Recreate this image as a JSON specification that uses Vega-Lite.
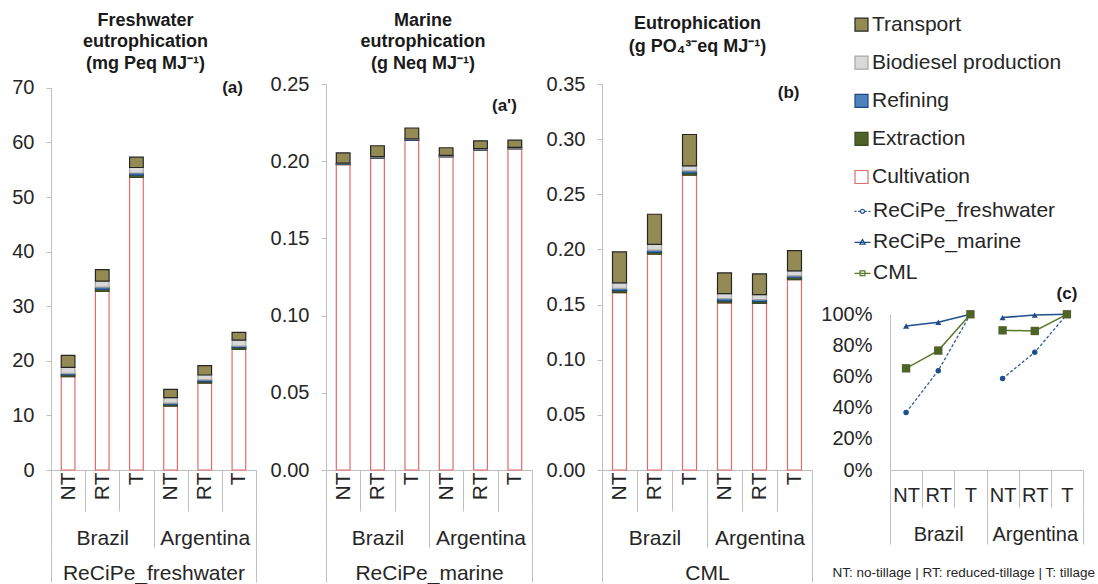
{
  "$schema": "https://vega.github.io/schema/vega-lite/v6.json",
  "padding": {"left": 11, "top": 11, "right": 0, "bottom": 0},
  "bounds": "flush",
  "spacing": 70,
  "config": {
    "font": "Liberation Sans",
    "view": {"stroke": null},
    "axis": {"labelColor": "#262626", "labelLimit": 400, "domainColor": "#bfbfbf", "tickColor": "#bfbfbf", "grid": false},
    "legend": {"labelLimit": 400, "padding": 0},
    "title": {"color": "#1a1a1a"}
  },
  "datasets": {
    "bars": [
      {"method": "ReCiPe_freshwater", "country": "Brazil", "tillage": "NT", "component": "Cultivation", "value": 17.1},
      {"method": "ReCiPe_freshwater", "country": "Brazil", "tillage": "NT", "component": "Extraction", "value": 0.3},
      {"method": "ReCiPe_freshwater", "country": "Brazil", "tillage": "NT", "component": "Refining", "value": 0.3},
      {"method": "ReCiPe_freshwater", "country": "Brazil", "tillage": "NT", "component": "Biodiesel production", "value": 1.1},
      {"method": "ReCiPe_freshwater", "country": "Brazil", "tillage": "NT", "component": "Transport", "value": 2.2},
      {"method": "ReCiPe_freshwater", "country": "Brazil", "tillage": "RT", "component": "Cultivation", "value": 32.7},
      {"method": "ReCiPe_freshwater", "country": "Brazil", "tillage": "RT", "component": "Extraction", "value": 0.4},
      {"method": "ReCiPe_freshwater", "country": "Brazil", "tillage": "RT", "component": "Refining", "value": 0.4},
      {"method": "ReCiPe_freshwater", "country": "Brazil", "tillage": "RT", "component": "Biodiesel production", "value": 1.1},
      {"method": "ReCiPe_freshwater", "country": "Brazil", "tillage": "RT", "component": "Transport", "value": 2.1},
      {"method": "ReCiPe_freshwater", "country": "Brazil", "tillage": "T", "component": "Cultivation", "value": 53.6},
      {"method": "ReCiPe_freshwater", "country": "Brazil", "tillage": "T", "component": "Extraction", "value": 0.4},
      {"method": "ReCiPe_freshwater", "country": "Brazil", "tillage": "T", "component": "Refining", "value": 0.4},
      {"method": "ReCiPe_freshwater", "country": "Brazil", "tillage": "T", "component": "Biodiesel production", "value": 1.0},
      {"method": "ReCiPe_freshwater", "country": "Brazil", "tillage": "T", "component": "Transport", "value": 1.9},
      {"method": "ReCiPe_freshwater", "country": "Argentina", "tillage": "NT", "component": "Cultivation", "value": 11.7},
      {"method": "ReCiPe_freshwater", "country": "Argentina", "tillage": "NT", "component": "Extraction", "value": 0.25},
      {"method": "ReCiPe_freshwater", "country": "Argentina", "tillage": "NT", "component": "Refining", "value": 0.3},
      {"method": "ReCiPe_freshwater", "country": "Argentina", "tillage": "NT", "component": "Biodiesel production", "value": 1.0},
      {"method": "ReCiPe_freshwater", "country": "Argentina", "tillage": "NT", "component": "Transport", "value": 1.5},
      {"method": "ReCiPe_freshwater", "country": "Argentina", "tillage": "RT", "component": "Cultivation", "value": 15.9},
      {"method": "ReCiPe_freshwater", "country": "Argentina", "tillage": "RT", "component": "Extraction", "value": 0.3},
      {"method": "ReCiPe_freshwater", "country": "Argentina", "tillage": "RT", "component": "Refining", "value": 0.3},
      {"method": "ReCiPe_freshwater", "country": "Argentina", "tillage": "RT", "component": "Biodiesel production", "value": 0.9},
      {"method": "ReCiPe_freshwater", "country": "Argentina", "tillage": "RT", "component": "Transport", "value": 1.7},
      {"method": "ReCiPe_freshwater", "country": "Argentina", "tillage": "T", "component": "Cultivation", "value": 22.1},
      {"method": "ReCiPe_freshwater", "country": "Argentina", "tillage": "T", "component": "Extraction", "value": 0.3},
      {"method": "ReCiPe_freshwater", "country": "Argentina", "tillage": "T", "component": "Refining", "value": 0.3},
      {"method": "ReCiPe_freshwater", "country": "Argentina", "tillage": "T", "component": "Biodiesel production", "value": 1.1},
      {"method": "ReCiPe_freshwater", "country": "Argentina", "tillage": "T", "component": "Transport", "value": 1.4},

      {"method": "ReCiPe_marine", "country": "Brazil", "tillage": "NT", "component": "Cultivation", "value": 0.1978},
      {"method": "ReCiPe_marine", "country": "Brazil", "tillage": "NT", "component": "Extraction", "value": 0.0002},
      {"method": "ReCiPe_marine", "country": "Brazil", "tillage": "NT", "component": "Refining", "value": 0.0004},
      {"method": "ReCiPe_marine", "country": "Brazil", "tillage": "NT", "component": "Biodiesel production", "value": 0.0004},
      {"method": "ReCiPe_marine", "country": "Brazil", "tillage": "NT", "component": "Transport", "value": 0.0066},
      {"method": "ReCiPe_marine", "country": "Brazil", "tillage": "RT", "component": "Cultivation", "value": 0.2020},
      {"method": "ReCiPe_marine", "country": "Brazil", "tillage": "RT", "component": "Extraction", "value": 0.0002},
      {"method": "ReCiPe_marine", "country": "Brazil", "tillage": "RT", "component": "Refining", "value": 0.0004},
      {"method": "ReCiPe_marine", "country": "Brazil", "tillage": "RT", "component": "Biodiesel production", "value": 0.0004},
      {"method": "ReCiPe_marine", "country": "Brazil", "tillage": "RT", "component": "Transport", "value": 0.0070},
      {"method": "ReCiPe_marine", "country": "Brazil", "tillage": "T", "component": "Cultivation", "value": 0.2135},
      {"method": "ReCiPe_marine", "country": "Brazil", "tillage": "T", "component": "Extraction", "value": 0.0002},
      {"method": "ReCiPe_marine", "country": "Brazil", "tillage": "T", "component": "Refining", "value": 0.0004},
      {"method": "ReCiPe_marine", "country": "Brazil", "tillage": "T", "component": "Biodiesel production", "value": 0.0004},
      {"method": "ReCiPe_marine", "country": "Brazil", "tillage": "T", "component": "Transport", "value": 0.0070},
      {"method": "ReCiPe_marine", "country": "Argentina", "tillage": "NT", "component": "Cultivation", "value": 0.2028},
      {"method": "ReCiPe_marine", "country": "Argentina", "tillage": "NT", "component": "Extraction", "value": 0.0002},
      {"method": "ReCiPe_marine", "country": "Argentina", "tillage": "NT", "component": "Refining", "value": 0.0004},
      {"method": "ReCiPe_marine", "country": "Argentina", "tillage": "NT", "component": "Biodiesel production", "value": 0.0004},
      {"method": "ReCiPe_marine", "country": "Argentina", "tillage": "NT", "component": "Transport", "value": 0.0049},
      {"method": "ReCiPe_marine", "country": "Argentina", "tillage": "RT", "component": "Cultivation", "value": 0.2072},
      {"method": "ReCiPe_marine", "country": "Argentina", "tillage": "RT", "component": "Extraction", "value": 0.0002},
      {"method": "ReCiPe_marine", "country": "Argentina", "tillage": "RT", "component": "Refining", "value": 0.0004},
      {"method": "ReCiPe_marine", "country": "Argentina", "tillage": "RT", "component": "Biodiesel production", "value": 0.0004},
      {"method": "ReCiPe_marine", "country": "Argentina", "tillage": "RT", "component": "Transport", "value": 0.0050},
      {"method": "ReCiPe_marine", "country": "Argentina", "tillage": "T", "component": "Cultivation", "value": 0.2080},
      {"method": "ReCiPe_marine", "country": "Argentina", "tillage": "T", "component": "Extraction", "value": 0.0002},
      {"method": "ReCiPe_marine", "country": "Argentina", "tillage": "T", "component": "Refining", "value": 0.0004},
      {"method": "ReCiPe_marine", "country": "Argentina", "tillage": "T", "component": "Biodiesel production", "value": 0.0004},
      {"method": "ReCiPe_marine", "country": "Argentina", "tillage": "T", "component": "Transport", "value": 0.0046},

      {"method": "CML", "country": "Brazil", "tillage": "NT", "component": "Cultivation", "value": 0.1609},
      {"method": "CML", "country": "Brazil", "tillage": "NT", "component": "Extraction", "value": 0.0018},
      {"method": "CML", "country": "Brazil", "tillage": "NT", "component": "Refining", "value": 0.0019},
      {"method": "CML", "country": "Brazil", "tillage": "NT", "component": "Biodiesel production", "value": 0.0051},
      {"method": "CML", "country": "Brazil", "tillage": "NT", "component": "Transport", "value": 0.0281},
      {"method": "CML", "country": "Brazil", "tillage": "RT", "component": "Cultivation", "value": 0.1957},
      {"method": "CML", "country": "Brazil", "tillage": "RT", "component": "Extraction", "value": 0.0017},
      {"method": "CML", "country": "Brazil", "tillage": "RT", "component": "Refining", "value": 0.0019},
      {"method": "CML", "country": "Brazil", "tillage": "RT", "component": "Biodiesel production", "value": 0.0052},
      {"method": "CML", "country": "Brazil", "tillage": "RT", "component": "Transport", "value": 0.0274},
      {"method": "CML", "country": "Brazil", "tillage": "T", "component": "Cultivation", "value": 0.2673},
      {"method": "CML", "country": "Brazil", "tillage": "T", "component": "Extraction", "value": 0.0020},
      {"method": "CML", "country": "Brazil", "tillage": "T", "component": "Refining", "value": 0.0020},
      {"method": "CML", "country": "Brazil", "tillage": "T", "component": "Biodiesel production", "value": 0.0045},
      {"method": "CML", "country": "Brazil", "tillage": "T", "component": "Transport", "value": 0.0284},
      {"method": "CML", "country": "Argentina", "tillage": "NT", "component": "Cultivation", "value": 0.1516},
      {"method": "CML", "country": "Argentina", "tillage": "NT", "component": "Extraction", "value": 0.0018},
      {"method": "CML", "country": "Argentina", "tillage": "NT", "component": "Refining", "value": 0.0021},
      {"method": "CML", "country": "Argentina", "tillage": "NT", "component": "Biodiesel production", "value": 0.0045},
      {"method": "CML", "country": "Argentina", "tillage": "NT", "component": "Transport", "value": 0.0188},
      {"method": "CML", "country": "Argentina", "tillage": "RT", "component": "Cultivation", "value": 0.1510},
      {"method": "CML", "country": "Argentina", "tillage": "RT", "component": "Extraction", "value": 0.0017},
      {"method": "CML", "country": "Argentina", "tillage": "RT", "component": "Refining", "value": 0.0019},
      {"method": "CML", "country": "Argentina", "tillage": "RT", "component": "Biodiesel production", "value": 0.0045},
      {"method": "CML", "country": "Argentina", "tillage": "RT", "component": "Transport", "value": 0.0188},
      {"method": "CML", "country": "Argentina", "tillage": "T", "component": "Cultivation", "value": 0.1727},
      {"method": "CML", "country": "Argentina", "tillage": "T", "component": "Extraction", "value": 0.0016},
      {"method": "CML", "country": "Argentina", "tillage": "T", "component": "Refining", "value": 0.0018},
      {"method": "CML", "country": "Argentina", "tillage": "T", "component": "Biodiesel production", "value": 0.0045},
      {"method": "CML", "country": "Argentina", "tillage": "T", "component": "Transport", "value": 0.0184}
    ],
    "lines": [
      {"series": "ReCiPe_freshwater", "country": "Brazil", "tillage": "NT", "pct": 0.369},
      {"series": "ReCiPe_freshwater", "country": "Brazil", "tillage": "RT", "pct": 0.638},
      {"series": "ReCiPe_freshwater", "country": "Brazil", "tillage": "T", "pct": 1.0},
      {"series": "ReCiPe_freshwater", "country": "Argentina", "tillage": "NT", "pct": 0.587},
      {"series": "ReCiPe_freshwater", "country": "Argentina", "tillage": "RT", "pct": 0.756},
      {"series": "ReCiPe_freshwater", "country": "Argentina", "tillage": "T", "pct": 1.0},
      {"series": "ReCiPe_marine", "country": "Brazil", "tillage": "NT", "pct": 0.925},
      {"series": "ReCiPe_marine", "country": "Brazil", "tillage": "RT", "pct": 0.949},
      {"series": "ReCiPe_marine", "country": "Brazil", "tillage": "T", "pct": 1.0},
      {"series": "ReCiPe_marine", "country": "Argentina", "tillage": "NT", "pct": 0.979},
      {"series": "ReCiPe_marine", "country": "Argentina", "tillage": "RT", "pct": 0.995},
      {"series": "ReCiPe_marine", "country": "Argentina", "tillage": "T", "pct": 1.0},
      {"series": "CML", "country": "Brazil", "tillage": "NT", "pct": 0.653},
      {"series": "CML", "country": "Brazil", "tillage": "RT", "pct": 0.767},
      {"series": "CML", "country": "Brazil", "tillage": "T", "pct": 1.0},
      {"series": "CML", "country": "Argentina", "tillage": "NT", "pct": 0.897},
      {"series": "CML", "country": "Argentina", "tillage": "RT", "pct": 0.893},
      {"series": "CML", "country": "Argentina", "tillage": "T", "pct": 1.0}
    ]
  },
  "hconcat": [
    {
      "width": 205, "height": 386,
      "title": {"text": ["Freshwater", "eutrophication", "(mg Peq MJ⁻¹)"], "frame": "group", "anchor": "middle", "offset": 5.3, "dx": -8, "fontSize": 18, "fontWeight": "bold", "lineHeight": 21.5},
      "data": {"name": "bars"},
      "transform": [
        {"filter": "datum.method === 'ReCiPe_freshwater'"},
        {"calculate": "datum.country + '|' + datum.tillage", "as": "key"},
        {"calculate": "indexof(['Cultivation','Extraction','Refining','Biodiesel production','Transport'], datum.component)", "as": "ord"}
      ],
      "layer": [
        {"layer": [
          {"mark": {"type": "bar", "width": {"band": 0.4}, "strokeWidth": 1.2, "opacity": 1},
           "encoding": {
             "x": {"field": "key", "type": "nominal", "scale": {"domain": ["Brazil|NT","Brazil|RT","Brazil|T","Argentina|NT","Argentina|RT","Argentina|T"], "paddingInner": 0, "paddingOuter": 0},
                   "axis": {"title": null, "labelExpr": "split(datum.label, '|')[1]", "labelAngle": 270, "labelAlign": "right", "labelBaseline": "middle", "labelFontSize": 21, "labelPadding": -39, "tickBand": "extent", "tickSize": 41}},
             "y": {"field": "value", "type": "quantitative", "stack": "zero", "scale": {"domain": [0, 70], "nice": false, "range": [386, 3.8]},
                   "axis": {"title": null, "values": [0, 10, 20, 30, 40, 50, 60, 70], "format": "d", "labelFontSize": 20, "labelPadding": 12, "tickSize": 5}},
             "fill": {"field": "component", "type": "nominal",
                      "scale": {"domain": ["Transport", "Biodiesel production", "Refining", "Extraction", "Cultivation"], "range": ["#948a54", "#d9d9d9", "#4f81bd", "#4f6228", "#ffffff"]},
                      "legend": {"orient": "none", "legendX": 800, "legendY": -69.9, "title": null, "symbolType": "square", "symbolSize": 169, "symbolStrokeWidth": 1.2, "labelFontSize": 21, "labelColor": "#262626", "rowPadding": 16.1, "labelOffset": 0,
                                 "encode": {"symbols": {"fill": {"condition": [{"test": "datum.value === 'Transport'", "value": "#948a54"}, {"test": "datum.value === 'Biodiesel production'", "value": "#d9d9d9"}, {"test": "datum.value === 'Refining'", "value": "#9dc3e6"}, {"test": "datum.value === 'Extraction'", "value": "#4f6228"}], "value": "#f4c4c4"}}}}},
             "stroke": {"field": "component", "type": "nominal",
                        "scale": {"domain": ["Transport", "Biodiesel production", "Refining", "Extraction", "Cultivation"], "range": ["#262626", "#a6a6a6", "#1f497d", "#3b4a1e", "#e26b6b"]},
                        "legend": {"orient": "none", "legendX": 800, "legendY": -69.9, "title": null, "symbolType": "square", "symbolSize": 169, "symbolStrokeWidth": 1.2, "labelFontSize": 21, "labelColor": "#262626", "rowPadding": 16.1, "labelOffset": 0,
                                   "encode": {"symbols": {"fill": {"condition": [{"test": "datum.value === 'Transport'", "value": "#948a54"}, {"test": "datum.value === 'Biodiesel production'", "value": "#d9d9d9"}, {"test": "datum.value === 'Refining'", "value": "#9dc3e6"}, {"test": "datum.value === 'Extraction'", "value": "#4f6228"}], "value": "#f4c4c4"}}}}},
             "order": {"field": "ord", "type": "quantitative"}
           }},
          {"transform": [{"filter": "datum.key === 'Argentina|T' && datum.component === 'Transport'"}],
           "mark": {"type": "text", "text": "(a)", "fontSize": 17, "fontWeight": "bold", "align": "right", "baseline": "middle", "dx": 4, "color": "#1a1a1a"},
           "encoding": {
             "x": {"field": "key", "type": "nominal", "scale": {"domain": ["Brazil|NT","Brazil|RT","Brazil|T","Argentina|NT","Argentina|RT","Argentina|T"], "paddingInner": 0, "paddingOuter": 0},
                   "axis": {"title": null, "labelExpr": "split(datum.label, '|')[1]", "labelAngle": 270, "labelAlign": "right", "labelBaseline": "middle", "labelFontSize": 21, "labelPadding": -39, "tickBand": "extent", "tickSize": 41}},
             "y": {"datum": 70}
           }}
        ]},
        {"mark": {"type": "bar", "opacity": 0},
         "encoding": {"x": {"field": "country", "type": "nominal", "sort": ["Brazil", "Argentina"], "scale": {"paddingInner": 0, "paddingOuter": 0},
                            "axis": {"orient": "bottom", "offset": 41, "title": null, "domain": false, "tickBand": "extent", "tickSize": 36, "labelAngle": 0, "labelFontSize": 21, "labelPadding": -19.5, "labelBaseline": "top"}}}},
        {"mark": {"type": "bar", "opacity": 0},
         "encoding": {"x": {"field": "method", "type": "nominal", "scale": {"paddingInner": 0, "paddingOuter": 0},
                            "axis": {"orient": "bottom", "offset": 77, "title": null, "domain": false, "tickBand": "extent", "tickSize": 35, "labelAngle": 0, "labelFontSize": 21, "labelPadding": -19.5, "labelBaseline": "top"}}}}
      ],
      "resolve": {"scale": {"x": "independent"}, "axis": {"x": "independent"}}
    },
    {
      "width": 206, "height": 386,
      "title": {"text": ["Marine", "eutrophication", "(g Neq MJ⁻¹)"], "frame": "group", "anchor": "middle", "offset": 1.5, "dx": -6, "fontSize": 18, "fontWeight": "bold", "lineHeight": 21.5},
      "data": {"name": "bars"},
      "transform": [
        {"filter": "datum.method === 'ReCiPe_marine'"},
        {"calculate": "datum.country + '|' + datum.tillage", "as": "key"},
        {"calculate": "indexof(['Cultivation','Extraction','Refining','Biodiesel production','Transport'], datum.component)", "as": "ord"}
      ],
      "layer": [
        {"layer": [
          {"mark": {"type": "bar", "width": {"band": 0.4}, "strokeWidth": 1.2, "opacity": 1},
           "encoding": {
             "x": {"field": "key", "type": "nominal", "scale": {"domain": ["Brazil|NT","Brazil|RT","Brazil|T","Argentina|NT","Argentina|RT","Argentina|T"], "paddingInner": 0, "paddingOuter": 0},
                   "axis": {"title": null, "labelExpr": "split(datum.label, '|')[1]", "labelAngle": 270, "labelAlign": "right", "labelBaseline": "middle", "labelFontSize": 21, "labelPadding": -39, "tickBand": "extent", "tickSize": 41}},
             "y": {"field": "value", "type": "quantitative", "stack": "zero", "scale": {"domain": [0, 0.25], "nice": false},
                   "axis": {"title": null, "values": [0, 0.05, 0.1, 0.15, 0.2, 0.25], "format": ".2f", "labelFontSize": 20, "labelPadding": 12, "tickSize": 5}},
             "fill": {"field": "component", "type": "nominal",
                      "scale": {"domain": ["Transport", "Biodiesel production", "Refining", "Extraction", "Cultivation"], "range": ["#948a54", "#d9d9d9", "#4f81bd", "#4f6228", "#ffffff"]},
                      "legend": {"orient": "none", "legendX": 800, "legendY": -69.9, "title": null, "symbolType": "square", "symbolSize": 169, "symbolStrokeWidth": 1.2, "labelFontSize": 21, "labelColor": "#262626", "rowPadding": 16.1, "labelOffset": 0,
                                 "encode": {"symbols": {"fill": {"condition": [{"test": "datum.value === 'Transport'", "value": "#948a54"}, {"test": "datum.value === 'Biodiesel production'", "value": "#d9d9d9"}, {"test": "datum.value === 'Refining'", "value": "#9dc3e6"}, {"test": "datum.value === 'Extraction'", "value": "#4f6228"}], "value": "#f4c4c4"}}}}},
             "stroke": {"field": "component", "type": "nominal",
                        "scale": {"domain": ["Transport", "Biodiesel production", "Refining", "Extraction", "Cultivation"], "range": ["#262626", "#a6a6a6", "#1f497d", "#3b4a1e", "#e26b6b"]},
                        "legend": {"orient": "none", "legendX": 800, "legendY": -69.9, "title": null, "symbolType": "square", "symbolSize": 169, "symbolStrokeWidth": 1.2, "labelFontSize": 21, "labelColor": "#262626", "rowPadding": 16.1, "labelOffset": 0,
                                   "encode": {"symbols": {"fill": {"condition": [{"test": "datum.value === 'Transport'", "value": "#948a54"}, {"test": "datum.value === 'Biodiesel production'", "value": "#d9d9d9"}, {"test": "datum.value === 'Refining'", "value": "#9dc3e6"}, {"test": "datum.value === 'Extraction'", "value": "#4f6228"}], "value": "#f4c4c4"}}}}},
             "order": {"field": "ord", "type": "quantitative"}
           }},
          {"transform": [{"filter": "datum.key === 'Argentina|T' && datum.component === 'Transport'"}],
           "mark": {"type": "text", "text": "(a')", "fontSize": 17, "fontWeight": "bold", "align": "right", "baseline": "middle", "dx": 2, "color": "#1a1a1a"},
           "encoding": {
             "x": {"field": "key", "type": "nominal", "scale": {"domain": ["Brazil|NT","Brazil|RT","Brazil|T","Argentina|NT","Argentina|RT","Argentina|T"], "paddingInner": 0, "paddingOuter": 0},
                   "axis": {"title": null, "labelExpr": "split(datum.label, '|')[1]", "labelAngle": 270, "labelAlign": "right", "labelBaseline": "middle", "labelFontSize": 21, "labelPadding": -39, "tickBand": "extent", "tickSize": 41}},
             "y": {"datum": 0.236}
           }}
        ]},
        {"mark": {"type": "bar", "opacity": 0},
         "encoding": {"x": {"field": "country", "type": "nominal", "sort": ["Brazil", "Argentina"], "scale": {"paddingInner": 0, "paddingOuter": 0},
                            "axis": {"orient": "bottom", "offset": 41, "title": null, "domain": false, "tickBand": "extent", "tickSize": 36, "labelAngle": 0, "labelFontSize": 21, "labelPadding": -19.5, "labelBaseline": "top"}}}},
        {"mark": {"type": "bar", "opacity": 0},
         "encoding": {"x": {"field": "method", "type": "nominal", "scale": {"paddingInner": 0, "paddingOuter": 0},
                            "axis": {"orient": "bottom", "offset": 77, "title": null, "domain": false, "tickBand": "extent", "tickSize": 35, "labelAngle": 0, "labelFontSize": 21, "labelPadding": -19.5, "labelBaseline": "top"}}}}
      ],
      "resolve": {"scale": {"x": "independent"}, "axis": {"x": "independent"}}
    },
    {
      "width": 210, "height": 386,
      "title": {"text": ["Eutrophication", "(g PO₄³⁻eq MJ⁻¹)"], "frame": "group", "anchor": "middle", "offset": 18, "dx": -9.5, "fontSize": 18, "fontWeight": "bold", "lineHeight": 22.6},
      "data": {"name": "bars"},
      "transform": [
        {"filter": "datum.method === 'CML'"},
        {"calculate": "datum.country + '|' + datum.tillage", "as": "key"},
        {"calculate": "indexof(['Cultivation','Extraction','Refining','Biodiesel production','Transport'], datum.component)", "as": "ord"}
      ],
      "layer": [
        {"layer": [
          {"mark": {"type": "bar", "width": {"band": 0.4}, "strokeWidth": 1.2, "opacity": 1},
           "encoding": {
             "x": {"field": "key", "type": "nominal", "scale": {"domain": ["Brazil|NT","Brazil|RT","Brazil|T","Argentina|NT","Argentina|RT","Argentina|T"], "paddingInner": 0, "paddingOuter": 0},
                   "axis": {"title": null, "labelExpr": "split(datum.label, '|')[1]", "labelAngle": 270, "labelAlign": "right", "labelBaseline": "middle", "labelFontSize": 21, "labelPadding": -39, "tickBand": "extent", "tickSize": 41}},
             "y": {"field": "value", "type": "quantitative", "stack": "zero", "scale": {"domain": [0, 0.35], "nice": false},
                   "axis": {"title": null, "values": [0, 0.05, 0.1, 0.15, 0.2, 0.25, 0.3, 0.35], "format": ".2f", "labelFontSize": 20, "labelPadding": 12, "tickSize": 5}},
             "fill": {"field": "component", "type": "nominal",
                      "scale": {"domain": ["Transport", "Biodiesel production", "Refining", "Extraction", "Cultivation"], "range": ["#948a54", "#d9d9d9", "#4f81bd", "#4f6228", "#ffffff"]},
                      "legend": {"orient": "none", "legendX": 800, "legendY": -69.9, "title": null, "symbolType": "square", "symbolSize": 169, "symbolStrokeWidth": 1.2, "labelFontSize": 21, "labelColor": "#262626", "rowPadding": 16.1, "labelOffset": 0,
                                 "encode": {"symbols": {"fill": {"condition": [{"test": "datum.value === 'Transport'", "value": "#948a54"}, {"test": "datum.value === 'Biodiesel production'", "value": "#d9d9d9"}, {"test": "datum.value === 'Refining'", "value": "#9dc3e6"}, {"test": "datum.value === 'Extraction'", "value": "#4f6228"}], "value": "#f4c4c4"}}}}},
             "stroke": {"field": "component", "type": "nominal",
                        "scale": {"domain": ["Transport", "Biodiesel production", "Refining", "Extraction", "Cultivation"], "range": ["#262626", "#a6a6a6", "#1f497d", "#3b4a1e", "#e26b6b"]},
                        "legend": {"orient": "none", "legendX": 800, "legendY": -69.9, "title": null, "symbolType": "square", "symbolSize": 169, "symbolStrokeWidth": 1.2, "labelFontSize": 21, "labelColor": "#262626", "rowPadding": 16.1, "labelOffset": 0,
                                   "encode": {"symbols": {"fill": {"condition": [{"test": "datum.value === 'Transport'", "value": "#948a54"}, {"test": "datum.value === 'Biodiesel production'", "value": "#d9d9d9"}, {"test": "datum.value === 'Refining'", "value": "#9dc3e6"}, {"test": "datum.value === 'Extraction'", "value": "#4f6228"}], "value": "#f4c4c4"}}}}},
             "order": {"field": "ord", "type": "quantitative"}
           }},
          {"transform": [{"filter": "datum.key === 'Argentina|T' && datum.component === 'Transport'"}],
           "mark": {"type": "text", "text": "(b)", "fontSize": 17, "fontWeight": "bold", "align": "right", "baseline": "middle", "dx": 5, "color": "#1a1a1a"},
           "encoding": {
             "x": {"field": "key", "type": "nominal", "scale": {"domain": ["Brazil|NT","Brazil|RT","Brazil|T","Argentina|NT","Argentina|RT","Argentina|T"], "paddingInner": 0, "paddingOuter": 0},
                   "axis": {"title": null, "labelExpr": "split(datum.label, '|')[1]", "labelAngle": 270, "labelAlign": "right", "labelBaseline": "middle", "labelFontSize": 21, "labelPadding": -39, "tickBand": "extent", "tickSize": 41}},
             "y": {"datum": 0.3414}
           }}
        ]},
        {"mark": {"type": "bar", "opacity": 0},
         "encoding": {"x": {"field": "country", "type": "nominal", "sort": ["Brazil", "Argentina"], "scale": {"paddingInner": 0, "paddingOuter": 0},
                            "axis": {"orient": "bottom", "offset": 41, "title": null, "domain": false, "tickBand": "extent", "tickSize": 36, "labelAngle": 0, "labelFontSize": 21, "labelPadding": -19.5, "labelBaseline": "top"}}}},
        {"mark": {"type": "bar", "opacity": 0},
         "encoding": {"x": {"field": "method", "type": "nominal", "scale": {"paddingInner": 0, "paddingOuter": 0},
                            "axis": {"orient": "bottom", "offset": 77, "title": null, "domain": false, "tickBand": "extent", "tickSize": 35, "labelAngle": 0, "labelFontSize": 21, "labelPadding": -19.5, "labelBaseline": "top"}}}}
      ],
      "resolve": {"scale": {"x": "independent"}, "axis": {"x": "independent"}}
    },
    {
      "width": 201, "height": 386,
      "title": {"text": "NT: no-tillage | RT: reduced-tillage | T: tillage", "orient": "bottom", "frame": "group", "anchor": "end", "offset": 21.5, "dx": 12, "fontSize": 13.5, "fontWeight": "normal", "color": "#262626"},
      "data": {"name": "lines"},
      "transform": [{"calculate": "datum.country + '|' + datum.tillage", "as": "key"}],
      "layer": [
        {"layer": [
          {"transform": [{"filter": "datum.series === 'ReCiPe_freshwater'"}],
           "mark": {"type": "line", "color": "#2c5d9b", "strokeWidth": 1.3, "strokeDash": [3, 2]},
           "encoding": {
             "x": {"field": "key", "type": "nominal", "scale": {"domain": ["Brazil|NT","Brazil|RT","Brazil|T","Argentina|NT","Argentina|RT","Argentina|T"], "range": [8, 201], "paddingInner": 0, "paddingOuter": 0},
                   "axis": {"title": null, "labelExpr": "split(datum.label, '|')[1]", "labelAngle": 0, "labelFontSize": 20, "labelPadding": -21.5, "labelBaseline": "top", "tickBand": "extent", "tickSize": 37}},
             "y": {"field": "pct", "type": "quantitative", "scale": {"domain": [0, 1], "nice": false, "range": [386, 230.3]},
                   "axis": {"title": null, "values": [0, 0.2, 0.4, 0.6, 0.8, 1], "format": ".0%", "labelFontSize": 20, "labelPadding": 18, "ticks": false, "tickSize": 0, "offset": -8}},
             "detail": {"field": "country", "type": "nominal"}
           }},
          {"transform": [{"filter": "datum.series === 'ReCiPe_marine'"}],
           "mark": {"type": "line", "color": "#1f4e8c", "strokeWidth": 1.5},
           "encoding": {
             "x": {"field": "key", "type": "nominal"},
             "y": {"field": "pct", "type": "quantitative"},
             "detail": {"field": "country", "type": "nominal"}
           }},
          {"transform": [{"filter": "datum.series === 'CML'"}],
           "mark": {"type": "line", "color": "#5a7a2b", "strokeWidth": 1.5},
           "encoding": {
             "x": {"field": "key", "type": "nominal"},
             "y": {"field": "pct", "type": "quantitative"},
             "detail": {"field": "country", "type": "nominal"}
           }},
          {"transform": [{"filter": "datum.series === 'ReCiPe_freshwater'"}],
           "mark": {"type": "point", "shape": "circle", "filled": true, "size": 30, "color": "#1f4e8c", "opacity": 1},
           "encoding": {"x": {"field": "key", "type": "nominal"}, "y": {"field": "pct", "type": "quantitative"}}},
          {"transform": [{"filter": "datum.series === 'ReCiPe_marine'"}],
           "mark": {"type": "point", "shape": "triangle-up", "filled": true, "size": 38, "color": "#1f4e8c", "opacity": 1},
           "encoding": {"x": {"field": "key", "type": "nominal"}, "y": {"field": "pct", "type": "quantitative"}}},
          {"transform": [{"filter": "datum.series === 'CML'"}],
           "mark": {"type": "point", "shape": "square", "filled": true, "size": 70, "color": "#4f6228", "opacity": 1},
           "encoding": {"x": {"field": "key", "type": "nominal"}, "y": {"field": "pct", "type": "quantitative"}}},
          {"transform": [{"filter": "datum.key === 'Argentina|T' && datum.series === 'CML'"}],
           "mark": {"type": "text", "text": "(c)", "fontSize": 17, "fontWeight": "bold", "align": "center", "baseline": "middle", "color": "#1a1a1a"},
           "encoding": {"x": {"field": "key", "type": "nominal"}, "y": {"datum": 1.13}}},
          {"transform": [{"filter": "false"}],
           "mark": {"type": "point", "filled": false, "opacity": 1, "strokeWidth": 1.3},
           "encoding": {
             "color": {"field": "series", "type": "nominal", "scale": {"domain": ["ReCiPe_freshwater", "ReCiPe_marine", "CML"], "range": ["#2c5d9b", "#1f4e8c", "#5a7a2b"]},
                       "legend": {"orient": "none", "legendX": 801, "legendY": 116.8, "title": null, "symbolSize": 256, "symbolStrokeWidth": 1.3, "labelFontSize": 21, "labelColor": "#262626", "rowPadding": 9, "labelOffset": 0,
                                  "encode": {"symbols": {
                                    "fill": {"condition": [{"test": "datum.value === 'ReCiPe_freshwater'", "value": "#1f4e8c"}, {"test": "datum.value === 'ReCiPe_marine'", "value": "#1f4e8c"}], "value": "#4f6228"}}}}},
             "shape": {"field": "series", "type": "nominal", "scale": {"domain": ["ReCiPe_freshwater", "ReCiPe_marine", "CML"],
                        "range": ["M-1,0L-0.75,0M-0.55,0L-0.3,0M0.3,0L0.55,0M0.75,0L1,0M0.25,0A0.25,0.25,0,1,1,-0.25,0A0.25,0.25,0,1,1,0.25,0Z", "M-1,0L1,0M0,-0.35L0.33,0.24L-0.33,0.24Z", "M-1,0L1,0M-0.3,-0.3L0.3,-0.3L0.3,0.3L-0.3,0.3Z"]},
                       "legend": {"orient": "none", "legendX": 801, "legendY": 116.8, "title": null, "symbolSize": 256, "symbolStrokeWidth": 1.3, "labelFontSize": 21, "labelColor": "#262626", "rowPadding": 9, "labelOffset": 0,
                                  "encode": {"symbols": {
                                    "fill": {"condition": [{"test": "datum.value === 'ReCiPe_freshwater'", "value": "#1f4e8c"}, {"test": "datum.value === 'ReCiPe_marine'", "value": "#1f4e8c"}], "value": "#4f6228"}}}}}
           }}
        ]},
        {"mark": {"type": "bar", "opacity": 0},
         "encoding": {"x": {"field": "country", "type": "nominal", "sort": ["Brazil", "Argentina"], "scale": {"range": [8, 201], "paddingInner": 0, "paddingOuter": 0},
                            "axis": {"orient": "bottom", "offset": 37, "title": null, "domain": false, "tickBand": "extent", "tickSize": 37, "labelAngle": 0, "labelFontSize": 20, "labelPadding": -20, "labelBaseline": "top"}}}}
      ],
      "resolve": {"scale": {"x": "independent"}, "axis": {"x": "independent"}}
    }
  ]
}
